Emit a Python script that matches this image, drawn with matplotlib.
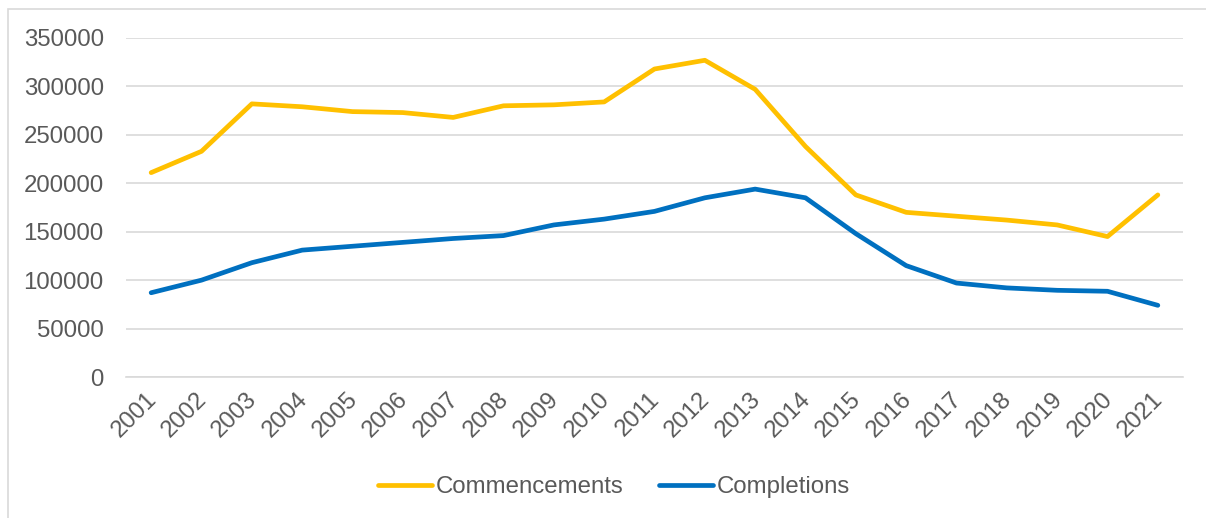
import numpy as np
import matplotlib.pyplot as plt
from matplotlib.patches import Rectangle
from matplotlib.transforms import ScaledTranslation

plt.rcParams['font.family'] = ['Liberation Sans', 'DejaVu Sans']

# Data
years = [str(y) for y in range(2001, 2022)]
commencements = [211000, 233000, 282000, 279000, 274000, 273000, 268000, 280000,
                 281000, 284000, 318000, 327000, 297000, 238000, 188000, 170000,
                 166000, 162000, 157000, 145000, 188000]
completions = [87000, 100000, 118000, 131000, 135000, 139000, 143000, 146000,
               157000, 163000, 171000, 185000, 194000, 185000, 148000, 115000,
               97000, 92000, 89500, 88500, 74000]

grey = '#595959'

fig = plt.figure(figsize=(12.06, 5.18), dpi=100)
ax = fig.add_axes([126 / 1206, 1 - 377 / 518, (1183 - 126) / 1206, (377 - 38) / 518])

# Outer chart border
fig.patches.append(Rectangle((8 / 1206, -0.1), 1.2, 1 - 9 / 518 + 0.1,
                             transform=fig.transFigure, fill=False,
                             edgecolor='#D9D9D9', linewidth=1.2))

x = np.arange(len(years))
ax.plot(x, commencements, color='#FFC000', lw=3.4, label='Commencements',
        solid_capstyle='round', solid_joinstyle='round')
ax.plot(x, completions, color='#0070C0', lw=3.4, label='Completions',
        solid_capstyle='round', solid_joinstyle='round')

ax.set_xlim(-0.5, len(years) - 0.5)
ax.set_ylim(0, 350000)
ax.set_yticks(range(0, 350001, 50000))
ax.set_xticks(x)
ax.set_xticklabels(years, rotation=45, ha='right', rotation_mode='anchor')

ax.grid(axis='y', color='#D9D9D9', lw=1.2)
ax.set_axisbelow(True)
for s in ['top', 'right', 'left']:
    ax.spines[s].set_visible(False)
ax.spines['bottom'].set_color('#D9D9D9')
ax.spines['bottom'].set_linewidth(1.2)
ax.tick_params(axis='both', length=0, labelsize=17.3, colors=grey)
ax.tick_params(axis='y', pad=16)
ax.tick_params(axis='x', pad=8)

shift = ScaledTranslation(-6 / 100, 0, fig.dpi_scale_trans)
for lab in ax.get_xticklabels():
    lab.set_transform(lab.get_transform() + shift)

leg = fig.legend(loc='center', bbox_to_anchor=(614 / 1206, 1 - 487 / 518), ncol=2,
                 frameon=False, fontsize=17.3, handlelength=2.25,
                 handletextpad=0.15, columnspacing=1.45)
for t in leg.get_texts():
    t.set_color(grey)

fig.savefig('out.png', dpi=100)
